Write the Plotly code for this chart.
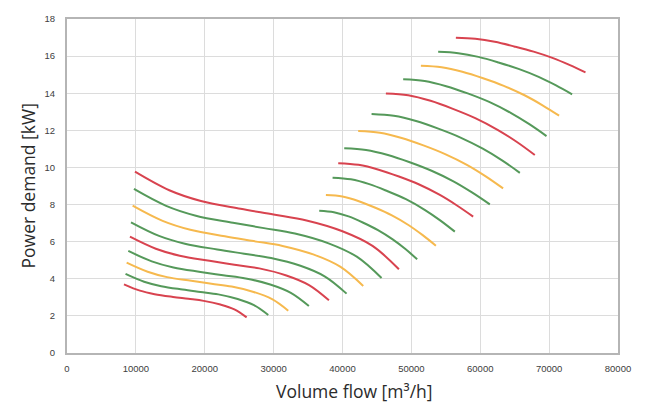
import plotly.graph_objects as go

# Volume flow [m3/h] and power demand [kW]
# Left family of curves (bottom to top)
left_x = [
    [8270, 10585, 12723, 15394, 17620, 19847, 22269, 24299, 26080],
    [8500, 11194, 13680, 16788, 19378, 21968, 24786, 27148, 29220],
    [8660, 11710, 14525, 18044, 20977, 23909, 27100, 29774, 32120],
    [8900, 12309, 15455, 19388, 22666, 25943, 29509, 32498, 35120],
    [9140, 12896, 16363, 20696, 24307, 27919, 31848, 35141, 38030],
    [9290, 13359, 17115, 21810, 25723, 29635, 33892, 37460, 40590],
    [9530, 13882, 17900, 22922, 27107, 31292, 35845, 39662, 43010],
    [9720, 14394, 18708, 24100, 28594, 33088, 37977, 42075, 45670],
    [9870, 14852, 19450, 25198, 29988, 34778, 39990, 44358, 48190],
]
left_y = [
    [3.70, 3.36, 3.17, 3.02, 2.92, 2.81, 2.61, 2.35, 1.92],
    [4.26, 3.84, 3.60, 3.42, 3.29, 3.16, 2.91, 2.58, 2.05],
    [4.87, 4.38, 4.09, 3.89, 3.73, 3.58, 3.29, 2.90, 2.28],
    [5.50, 4.94, 4.61, 4.37, 4.19, 4.02, 3.69, 3.24, 2.53],
    [6.27, 5.62, 5.24, 4.97, 4.76, 4.56, 4.18, 3.66, 2.84],
    [7.04, 6.31, 5.89, 5.58, 5.35, 5.12, 4.70, 4.12, 3.20],
    [7.94, 7.12, 6.64, 6.29, 6.03, 5.77, 5.30, 4.65, 3.61],
    [8.84, 7.93, 7.40, 7.02, 6.73, 6.44, 5.91, 5.19, 4.04],
    [9.77, 8.77, 8.19, 7.77, 7.46, 7.14, 6.56, 5.77, 4.51],
]
left_colors = ["red", "green", "orange", "green", "red", "green", "orange", "green", "red"]

# Right family of curves (bottom to top)
right_x = [
    [36620, 38753, 40886, 43019, 45152, 47285, 49134, 50840],
    [37590, 39986, 42381, 44777, 47172, 49568, 51644, 53560],
    [38560, 41223, 43885, 46548, 49210, 51873, 54180, 56310],
    [39380, 42319, 45257, 48196, 51134, 54073, 56619, 58970],
    [40250, 43421, 46592, 49763, 52934, 56105, 58853, 61390],
    [42280, 45436, 48592, 51748, 54904, 58060, 60795, 63320],
    [44220, 47450, 50679, 53909, 57138, 60368, 63166, 65750],
    [46300, 49543, 52786, 56029, 59272, 62515, 65326, 67920],
    [48810, 51932, 55053, 58175, 61296, 64418, 67123, 69620],
    [51380, 54391, 57401, 60412, 63422, 66433, 69042, 71450],
    [53890, 56808, 59725, 62643, 65560, 68478, 71006, 73340],
    [56460, 59283, 62106, 64929, 67752, 70575, 73022, 75280],
]
right_y = [
    [7.67, 7.59, 7.36, 7.02, 6.62, 6.12, 5.60, 5.05],
    [8.51, 8.43, 8.18, 7.83, 7.42, 6.90, 6.35, 5.78],
    [9.45, 9.36, 9.10, 8.72, 8.29, 7.73, 7.15, 6.54],
    [10.23, 10.14, 9.88, 9.51, 9.08, 8.53, 7.95, 7.35],
    [11.03, 10.94, 10.67, 10.28, 9.82, 9.25, 8.64, 8.01],
    [11.96, 11.87, 11.59, 11.19, 10.72, 10.14, 9.52, 8.87],
    [12.88, 12.78, 12.50, 12.09, 11.61, 11.01, 10.38, 9.71],
    [13.99, 13.89, 13.59, 13.16, 12.66, 12.03, 11.37, 10.67],
    [14.75, 14.66, 14.38, 13.99, 13.53, 12.94, 12.33, 11.69],
    [15.48, 15.40, 15.16, 14.81, 14.40, 13.89, 13.35, 12.79],
    [16.23, 16.16, 15.96, 15.66, 15.31, 14.88, 14.42, 13.94],
    [16.99, 16.93, 16.77, 16.52, 16.24, 15.89, 15.51, 15.12],
]
right_colors = ["green", "orange", "green", "red", "green", "orange",
                "green", "red", "green", "orange", "green", "red"]

x_ticks = [0, 10000, 20000, 30000, 40000, 50000, 60000, 70000, 80000]
y_ticks = [0, 2, 4, 6, 8, 10, 12, 14, 16, 18]
x_title = "Volume flow [m³/h]"
y_title = "Power demand [kW]"

palette = {"red": "#d8434f", "green": "#55995a", "orange": "#f6b94e"}

fig = go.Figure()
for xs, ys, c in list(zip(left_x, left_y, left_colors)) + list(zip(right_x, right_y, right_colors)):
    fig.add_trace(go.Scatter(
        x=xs, y=ys, mode="lines",
        line=dict(color=palette[c], width=2, shape="spline", smoothing=1.0),
        showlegend=False, hoverinfo="skip",
    ))

axis_common = dict(
    showgrid=True, gridcolor="#dcdcdc", gridwidth=1,
    showline=True, linecolor="#b5b5b5", linewidth=2, mirror=True,
    zeroline=False, ticks="",
    tickfont=dict(family="Liberation Sans", size=9.5, color="#404040"),
)

title_font = dict(family="Open Sans", size=17.5, color="#2b2b2b")

fig.update_layout(
    width=648, height=402,
    margin=dict(l=67, r=30, t=19, b=49),
    paper_bgcolor="white", plot_bgcolor="white",
    xaxis=dict(
        range=[0, 80000], tickvals=x_ticks, ticktext=[str(v) for v in x_ticks],
        ticklabelstandoff=6,
        **axis_common,
    ),
    yaxis=dict(
        range=[0, 18], tickvals=y_ticks, ticktext=[str(v) for v in y_ticks],
        ticklabelstandoff=8,
        **axis_common,
    ),
    annotations=[
        dict(text=x_title, xref="paper", yref="paper", x=0.521, y=-0.1138,
             xanchor="center", yanchor="middle", showarrow=False, font=title_font),
        dict(text=y_title, xref="paper", yref="paper", x=-0.0699, y=0.5,
             xanchor="center", yanchor="middle", textangle=-90, showarrow=False,
             font=title_font),
    ],
)

fig.write_html("out.html")
